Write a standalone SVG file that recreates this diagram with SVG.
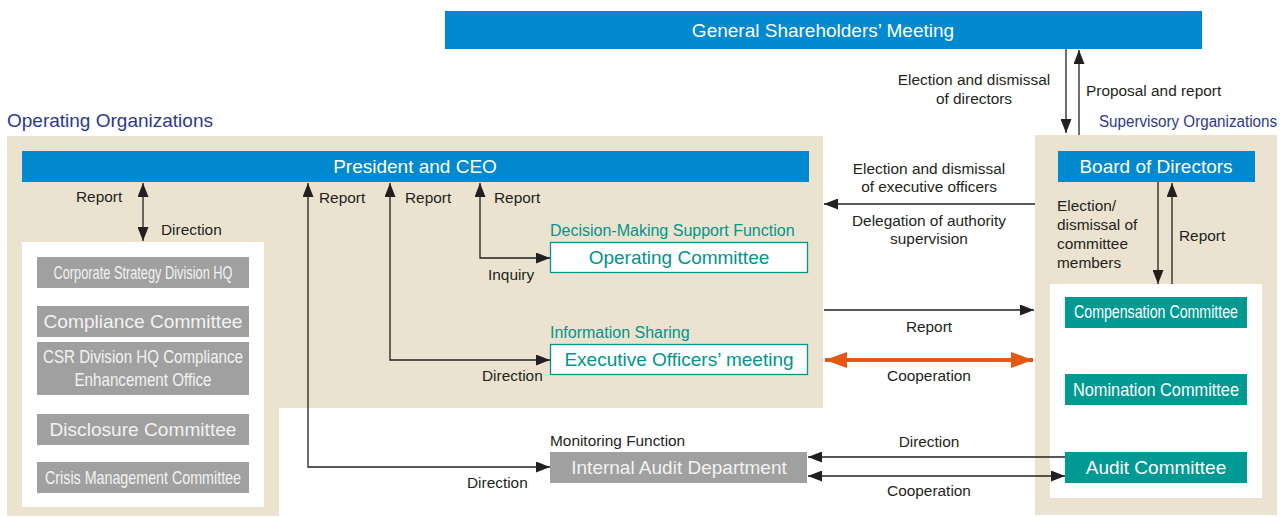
<svg xmlns="http://www.w3.org/2000/svg" width="1286" height="517" viewBox="0 0 1286 517">
<style>
.lbl{font-family:"Liberation Sans",Arial,sans-serif;font-size:15.4px;fill:#231f20}
.ctr{text-anchor:middle}
.wt{font-family:"Liberation Sans",Arial,sans-serif;font-size:19px;fill:#ffffff;text-anchor:middle}
.gt{font-family:"Liberation Sans",Arial,sans-serif;font-size:19px;fill:#f2f2f2;text-anchor:middle}
.tt{font-family:"Liberation Sans",Arial,sans-serif;font-size:19px;fill:#00958c;text-anchor:middle}
.ts{font-family:"Liberation Sans",Arial,sans-serif;font-size:16px;fill:#00958c}
.blue{fill:#0089cf}
.grey{fill:#a0a0a0}
.teal{fill:#009a92}
.beige{fill:#ebe3d0}
.ln{stroke:#231f20;stroke-width:1.3;fill:none}
.or{stroke:#e35812;stroke-width:4;fill:none}
.hd{font-family:"Liberation Sans",Arial,sans-serif;fill:#2b3990}
</style>
<defs>
<marker id="ah" markerUnits="userSpaceOnUse" markerWidth="14" markerHeight="11" refX="14" refY="5.5" orient="auto-start-reverse">
<path d="M0,0 L14,5.5 L0,11 z" fill="#231f20"/>
</marker>
<marker id="aho" markerUnits="userSpaceOnUse" markerWidth="22" markerHeight="16" refX="22" refY="8" orient="auto-start-reverse">
<path d="M0,0 L22,8 L0,16 z" fill="#e35812"/>
</marker>
</defs>
<rect width="1286" height="517" fill="#ffffff"/>

<!-- panels -->
<g id="operating-panel">
<path class="beige" d="M7,136 H823 V408 H279 V516 H7 Z"/>
<text class="hd" x="7" y="127" font-size="19">Operating Organizations</text>
<rect x="22" y="242" width="242" height="265" fill="#ffffff"/>
</g>
<g id="supervisory-panel">
<rect class="beige" x="1035" y="135" width="242" height="380"/>
<text class="hd" x="1099" y="127" font-size="16" textLength="178" lengthAdjust="spacingAndGlyphs">Supervisory Organizations</text>
<rect x="1050" y="284" width="212" height="214" fill="#ffffff"/>
</g>

<!-- nodes -->
<g id="gsm">
<rect class="blue" x="445" y="11" width="757" height="38"/>
<text class="wt" x="823" y="37">General Shareholders’ Meeting</text>
</g>
<g id="president">
<rect class="blue" x="22" y="151" width="787" height="31"/>
<text class="wt" x="415" y="173">President and CEO</text>
</g>
<g id="board">
<rect class="blue" x="1058" y="151" width="197" height="31"/>
<text class="wt" x="1156" y="173">Board of Directors</text>
</g>
<g id="corp-strategy">
<rect class="grey" x="37" y="257" width="212" height="31"/>
<text class="gt" x="143" y="279" font-size="16" textLength="179" lengthAdjust="spacingAndGlyphs">Corporate Strategy Division HQ</text>
</g>
<g id="compliance">
<rect class="grey" x="37" y="306" width="212" height="31"/>
<text class="gt" x="143" y="328" textLength="199" lengthAdjust="spacingAndGlyphs">Compliance Committee</text>
</g>
<g id="csr">
<rect class="grey" x="37" y="342" width="212" height="53"/>
<text class="gt" x="143" y="363" font-size="17" textLength="200" lengthAdjust="spacingAndGlyphs">CSR Division HQ Compliance</text>
<text class="gt" x="143" y="386" font-size="17" textLength="137" lengthAdjust="spacingAndGlyphs">Enhancement Office</text>
</g>
<g id="disclosure">
<rect class="grey" x="37" y="414" width="212" height="31"/>
<text class="gt" x="143" y="436" textLength="187" lengthAdjust="spacingAndGlyphs">Disclosure Committee</text>
</g>
<g id="crisis">
<rect class="grey" x="37" y="462" width="212" height="31"/>
<text class="gt" x="143" y="484" font-size="16" textLength="196" lengthAdjust="spacingAndGlyphs">Crisis Management Committee</text>
</g>
<g id="operating-committee">
<text class="ts" x="550" y="236">Decision-Making Support Function</text>
<rect x="550.5" y="242.5" width="257" height="30" fill="#ffffff" stroke="#00958c" stroke-width="1.3"/>
<text class="tt" x="679" y="264">Operating Committee</text>
</g>
<g id="executive-officers">
<text class="ts" x="550" y="338">Information Sharing</text>
<rect x="550.5" y="344.5" width="257" height="30" fill="#ffffff" stroke="#00958c" stroke-width="1.3"/>
<text class="tt" x="679" y="366">Executive Officers’ meeting</text>
</g>
<g id="internal-audit">
<text class="lbl" x="550" y="446">Monitoring Function</text>
<rect class="grey" x="550" y="452" width="257" height="31"/>
<text class="gt" x="679" y="474">Internal Audit Department</text>
</g>
<g id="compensation">
<rect class="teal" x="1065" y="297" width="182" height="31"/>
<text class="wt" x="1156" y="318" font-size="14" textLength="164" lengthAdjust="spacingAndGlyphs">Compensation Committee</text>
</g>
<g id="nomination">
<rect class="teal" x="1065" y="374" width="182" height="31"/>
<text class="wt" x="1156" y="396" font-size="17" textLength="166" lengthAdjust="spacingAndGlyphs">Nomination Committee</text>
</g>
<g id="audit-committee">
<rect class="teal" x="1065" y="452" width="182" height="31"/>
<text class="wt" x="1156" y="474">Audit Committee</text>
</g>

<!-- connectors -->
<g id="connectors">
<line class="ln" x1="1066" y1="49" x2="1066" y2="133" marker-end="url(#ah)"/>
<line class="ln" x1="1079" y1="135" x2="1079" y2="50" marker-end="url(#ah)"/>
<line class="ln" x1="143" y1="183" x2="143" y2="241" marker-start="url(#ah)" marker-end="url(#ah)"/>
<polyline class="ln" points="550,467 308,467 308,183" marker-start="url(#ah)" marker-end="url(#ah)"/>
<polyline class="ln" points="550,360 390,360 390,183" marker-start="url(#ah)" marker-end="url(#ah)"/>
<polyline class="ln" points="550,258 480,258 480,183" marker-start="url(#ah)" marker-end="url(#ah)"/>
<line class="ln" x1="1035" y1="204" x2="824" y2="204" marker-end="url(#ah)"/>
<line class="ln" x1="824" y1="310" x2="1034" y2="310" marker-end="url(#ah)"/>
<line class="or" x1="825" y1="360" x2="1033" y2="360" marker-start="url(#aho)" marker-end="url(#aho)"/>
<line class="ln" x1="1158" y1="182" x2="1158" y2="284" marker-end="url(#ah)"/>
<line class="ln" x1="1172" y1="284" x2="1172" y2="183" marker-end="url(#ah)"/>
<line class="ln" x1="1065" y1="457" x2="808" y2="457" marker-end="url(#ah)"/>
<line class="ln" x1="808" y1="476" x2="1065" y2="476" marker-start="url(#ah)" marker-end="url(#ah)"/>

<text class="lbl ctr" x="974" y="85">Election and dismissal</text>
<text class="lbl ctr" x="974" y="104">of directors</text>
<text class="lbl" x="1086" y="96">Proposal and report</text>
<text class="lbl" x="76" y="202">Report</text>
<text class="lbl" x="161" y="235">Direction</text>
<text class="lbl" x="319" y="203">Report</text>
<text class="lbl" x="405" y="203">Report</text>
<text class="lbl" x="494" y="203">Report</text>
<text class="lbl" x="488" y="280">Inquiry</text>
<text class="lbl" x="482" y="381">Direction</text>
<text class="lbl" x="467" y="488">Direction</text>
<text class="lbl ctr" x="929" y="174">Election and dismissal</text>
<text class="lbl ctr" x="929" y="192">of executive officers</text>
<text class="lbl ctr" x="929" y="226">Delegation of authority</text>
<text class="lbl ctr" x="929" y="244">supervision</text>
<text class="lbl ctr" x="929" y="332">Report</text>
<text class="lbl ctr" x="929" y="381">Cooperation</text>
<text class="lbl ctr" x="929" y="447">Direction</text>
<text class="lbl ctr" x="929" y="496">Cooperation</text>
<text class="lbl" x="1057" y="211">Election/</text>
<text class="lbl" x="1057" y="230">dismissal of</text>
<text class="lbl" x="1057" y="249">committee</text>
<text class="lbl" x="1057" y="268">members</text>
<text class="lbl" x="1179" y="241">Report</text>
</g>
</svg>
